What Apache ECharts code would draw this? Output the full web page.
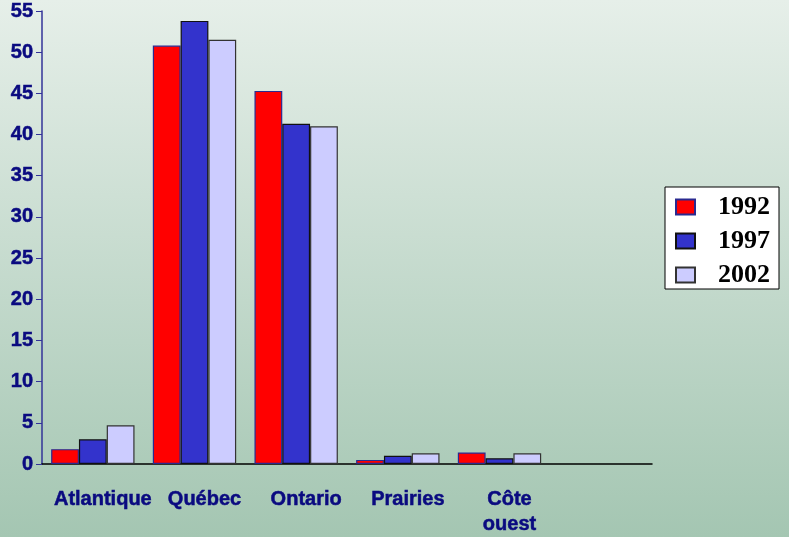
<!DOCTYPE html>
<html><head><meta charset="utf-8">
<script src="https://cdn.jsdelivr.net/npm/echarts@6/dist/echarts.min.js"></script>
<style>html,body{margin:0;padding:0;}#c{width:789px;height:537px;}</style>
</head><body><div id="c"></div>
<script>
const categories = ['Atlantique', 'Québec', 'Ontario', 'Prairies', 'Côte\nouest', ''];
const years = ['1992', '1997', '2002'];
const v1992 = [1.8, 50.8, 45.3, 0.5, 1.4, null];
const v1997 = [3.0, 53.8, 41.3, 1.0, 0.7, null];
const v2002 = [4.7, 51.5, 41.0, 1.3, 1.3, null];
const yTicks = { min: 0, max: 55, interval: 5 };

const colors = ['#ff0000', '#3333cc', '#ccccff'];
const borders = ['#2a2a90', '#111111', '#333333'];
const values = [v1992, v1997, v2002];

const chart = echarts.init(document.getElementById('c'));
chart.setOption({
  backgroundColor: {
    type: 'linear', x: 0, y: 0, x2: 0, y2: 1,
    colorStops: [{ offset: 0, color: '#e6efe9' }, { offset: 1, color: '#a4c6b2' }]
  },
  animation: false,
  grid: { left: 42, right: 137, top: 11, bottom: 70, containLabel: false },
  legend: {
    orient: 'vertical',
    left: 665, top: 187,
    backgroundColor: '#ffffff',
    borderColor: '#000000', borderWidth: 1,
    padding: [7, 9, 1, 10],
    itemWidth: 19, itemHeight: 15, itemGap: 8,
    icon: 'rect',
    textStyle: { fontFamily: 'Liberation Serif', fontWeight: 'bold', fontSize: 26, color: '#000', padding: [0, 0, 0, 18] },
    data: years
  },
  xAxis: {
    type: 'category',
    data: categories,
    axisLine: { lineStyle: { color: '#000', width: 1.5 } },
    axisTick: { length: 5, lineStyle: { color: '#000' } },
    axisLabel: {
      interval: 0, margin: 23, color: '#0a0a80', fontFamily: 'Liberation Sans',
      fontWeight: 'bold', fontSize: 20, lineHeight: 25, padding: [0, 0, 0, 20],
      textBorderColor: '#0a0a80', textBorderWidth: 0.5
    }
  },
  yAxis: {
    type: 'value', min: yTicks.min, max: yTicks.max, interval: yTicks.interval,
    splitLine: { show: false },
    axisLine: { show: true, lineStyle: { color: '#333399', width: 1.5 } },
    axisTick: { show: true, length: 6, lineStyle: { color: '#333399' } },
    axisLabel: { margin: 9, color: '#0a0a80', fontFamily: 'Liberation Sans', fontWeight: 'bold', fontSize: 20,
      textBorderColor: '#0a0a80', textBorderWidth: 0.5 }
  },
  series: years.map((y, i) => ({
    name: y, type: 'bar', data: values[i],
    barGap: '0%', barCategoryGap: '18%',
    itemStyle: { color: colors[i], borderColor: borders[i], borderWidth: 1.2 }
  }))
});
</script></body></html>
